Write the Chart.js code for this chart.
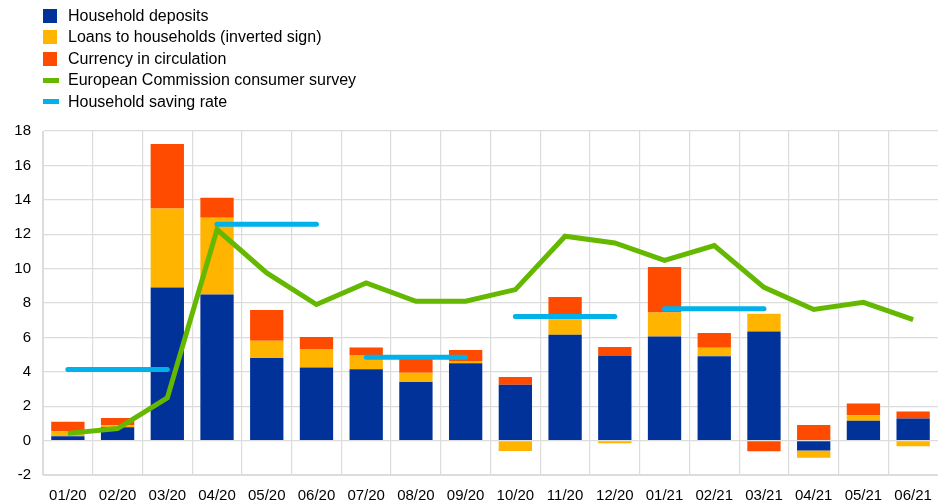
<!DOCTYPE html>
<html>
<head>
<meta charset="utf-8">
<script src="https://cdn.jsdelivr.net/npm/chart.js@4/dist/chart.umd.min.js"></script>
<style>
  html, body { margin: 0; padding: 0; background: #fff; }
  #wrap { position: relative; width: 938px; height: 504px; }
  canvas { position: absolute; left: 0; top: 0; }
  #legend { position: absolute; left: 0; top: 0; font-family: "Liberation Sans", Arial, sans-serif; font-size: 16px; color: #000; }
  .item { position: absolute; left: 43px; height: 20px; white-space: nowrap; }
  .sw { position: absolute; left: 0; }
  .txt { position: absolute; left: 25px; top: 0; line-height: 20px; }
</style>
</head>
<body>
<div id="wrap">
  <canvas id="c" width="938" height="504"></canvas>
  <div id="legend"></div>
</div>
<script>
const categories = ['01/20','02/20','03/20','04/20','05/20','06/20','07/20','08/20','09/20','10/20','11/20','12/20','01/21','02/21','03/21','04/21','05/21','06/21'];
const householdDeposits = [0.25, 0.77, 8.9, 8.5, 4.8, 4.25, 4.15, 3.4, 4.5, 3.25, 6.15, 4.92, 6.05, 4.9, 6.35, -0.58, 1.15, 1.28];
const loansToHouseholds = [0.3, 0.12, 4.6, 4.45, 1.0, 1.05, 0.8, 0.55, 0.13, -0.6, 0.9, -0.15, 1.4, 0.5, 1.03, -0.42, 0.32, -0.33];
const currencyInCirculation = [0.55, 0.43, 3.75, 1.17, 1.8, 0.72, 0.47, 0.8, 0.64, 0.45, 1.3, 0.52, 2.65, 0.85, -0.62, 0.91, 0.68, 0.41];
const ecConsumerSurvey = [0.42, 0.70, 2.48, 12.27, 9.75, 7.91, 9.17, 8.10, 8.10, 8.78, 11.88, 11.49, 10.48, 11.34, 8.91, 7.62, 8.04, 7.03];
const savingRateQuarterly = [4.13, 12.58, 4.84, 7.21, 7.66, null];
const yTicks = [-2, 0, 2, 4, 6, 8, 10, 12, 14, 16, 18];

const C = { dep: '#003299', loans: '#FFB400', cur: '#FF4B00', ec: '#65B800', sav: '#00B1EA' };

// saving rate expanded to monthly positions (each quarter spans its three months)
const savingRateMonthly = categories.map((_, i) => savingRateQuarterly[Math.floor(i / 3)]);

const legendItems = [
  { label: 'Household deposits', color: C.dep, type: 'box' },
  { label: 'Loans to households (inverted sign)', color: C.loans, type: 'box' },
  { label: 'Currency in circulation', color: C.cur, type: 'box' },
  { label: 'European Commission consumer survey', color: C.ec, type: 'line' },
  { label: 'Household saving rate', color: C.sav, type: 'line' }
];
const legendEl = document.getElementById('legend');
legendItems.forEach((it, i) => {
  const d = document.createElement('div');
  d.className = 'item';
  const cy = 16 + i * 21.4;
  d.style.top = (cy - 10) + 'px';
  const sw = document.createElement('div');
  sw.className = 'sw';
  sw.style.background = it.color;
  if (it.type === 'box') { sw.style.width = '14px'; sw.style.height = '14px'; sw.style.top = '3px'; }
  else { sw.style.width = '16px'; sw.style.height = '5px'; sw.style.top = '7.5px'; }
  const t = document.createElement('span');
  t.className = 'txt';
  t.textContent = it.label;
  d.appendChild(sw); d.appendChild(t);
  legendEl.appendChild(d);
});

Chart.defaults.font.family = '"Liberation Sans", Arial, sans-serif';
Chart.defaults.font.size = 15;
Chart.defaults.color = '#000';

new Chart(document.getElementById('c'), {
  type: 'bar',
  data: {
    labels: categories,
    datasets: [
      { type: 'line', label: 'European Commission consumer survey', data: ecConsumerSurvey, borderColor: C.ec, backgroundColor: C.ec, borderWidth: 5, pointRadius: 0, tension: 0, stack: 'ec', order: 0, borderJoinStyle: 'miter' },
      { type: 'line', label: 'Household saving rate', data: savingRateMonthly, borderColor: C.sav, backgroundColor: C.sav, borderWidth: 5, pointRadius: 0, tension: 0, stack: 'sav', order: 0, borderCapStyle: 'round',
        segment: { borderColor: ctx => Math.floor(ctx.p0DataIndex / 3) === Math.floor(ctx.p1DataIndex / 3) ? C.sav : 'rgba(0,0,0,0)' } },
      { label: 'Household deposits', data: householdDeposits, backgroundColor: C.dep, stack: 'bars', order: 1 },
      { label: 'Loans to households (inverted sign)', data: loansToHouseholds, backgroundColor: C.loans, stack: 'bars', order: 1 },
      { label: 'Currency in circulation', data: currencyInCirculation, backgroundColor: C.cur, stack: 'bars', order: 1 }
    ]
  },
  options: {
    responsive: false,
    animation: false,
    layout: { padding: { top: 131, left: 0, right: 0, bottom: 0 } },
    datasets: { bar: { categoryPercentage: 1, barPercentage: 0.67 } },
    plugins: { legend: { display: false }, tooltip: { enabled: false } },
    scales: {
      x: {
        stacked: true,
        afterFit: s => { s.height = 29; s.paddingLeft = 0; s.paddingRight = 0; },
        grid: { color: ctx => (ctx.tick && ctx.index < categories.length) ? '#dcdcdc' : 'rgba(0,0,0,0)', lineWidth: 1.2, drawTicks: false, offset: true },
        border: { color: '#dcdcdc' },
        ticks: { padding: 12, maxRotation: 0, autoSkip: false, font: { size: 15 } }
      },
      y: {
        stacked: true,
        min: -2, max: 18,
        afterBuildTicks: s => { s.ticks = yTicks.map(v => ({ value: v })); },
        afterFit: s => { s.width = 43; },
        grid: { color: '#dcdcdc', lineWidth: 1.2, drawTicks: false },
        border: { color: '#dcdcdc' },
        ticks: { padding: 12, font: { size: 15 } }
      }
    }
  }
});
</script>
</body>
</html>
